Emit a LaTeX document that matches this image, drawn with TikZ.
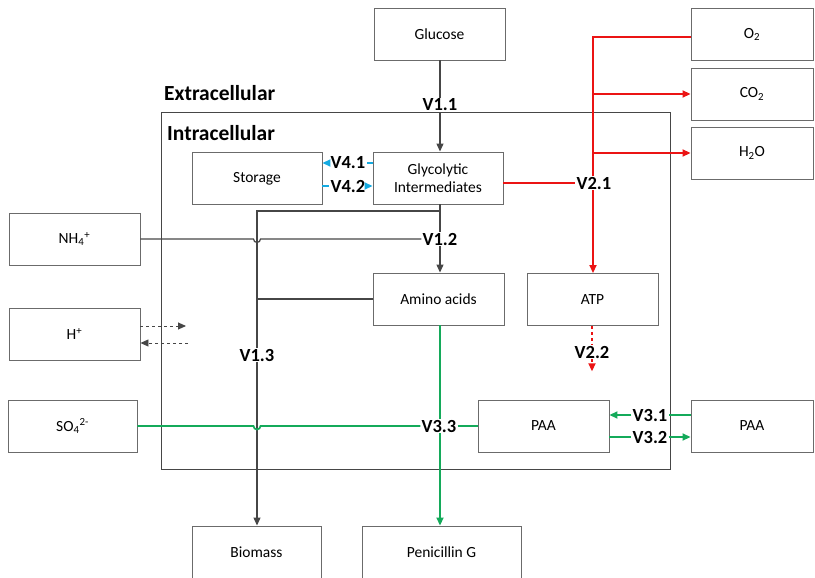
\documentclass[tikz,border=0pt]{standalone}
\usepackage{fontspec}
\setmainfont{Carlito}
\usetikzlibrary{arrows.meta,calc}
\definecolor{lc}{RGB}{70,70,70}
\definecolor{rd}{RGB}{235,20,20}
\definecolor{gn}{RGB}{20,170,90}
\definecolor{cy}{RGB}{20,170,225}
\tikzset{
  box/.style={draw=lc!80, line width=0.9pt, minimum width=#1, minimum height=52pt, inner sep=0pt, font=\fontsize{15.5}{17.5}\selectfont, align=center},
  box/.default=131pt,
  lab/.style={fill=white, inner sep=1pt, font=\bfseries\fontsize{18.5}{20}\selectfont},
  ttl/.style={anchor=base west, inner sep=0pt, font=\bfseries\fontsize{21.5}{23}\selectfont},
  ln/.style={draw=lc, line width=1.2pt},
  rl/.style={draw=rd, line width=1.7pt},
  gl/.style={draw=gn, line width=1.7pt},
  cl/.style={draw=cy, line width=1.7pt},
  arr/.style={-{Triangle[length=8pt,width=7pt]}},
}
\begin{document}
\begin{tikzpicture}[x=1pt,y=-1pt]
\useasboundingbox (0,0) rectangle (815,578);
% intracellular box
\draw[lc, line width=1pt] (161,113) rectangle (670,469);
\node[ttl] (ext) at (164,101) {Extracellular};
\node[ttl] (intr) at (167,140) {Intracellular};
% boxes
\node[box] (gluc) at (439.5,34) {Glucose};
\node[box=122pt] (o2) at (752,34.5) {O\textsubscript{2}};
\node[box=122pt] (co2) at (752,94) {CO\textsubscript{2}};
\node[box=122pt] (h2o) at (752,153) {H\textsubscript{2}O};
\node[box=130pt] (stor) at (257,178.5) {Storage};
\node[box=130pt] (glyc) at (438,178) {Glycolytic\\Intermediates};
\node[box] (nh4) at (74.5,239) {NH\textsubscript{4}\textsuperscript{+}};
\node[box] (hp) at (74.5,334) {H\textsuperscript{+}};
\node[box] (amino) at (438.5,299) {Amino acids};
\node[box] (atp) at (592.5,299.5) {ATP};
\node[box=129pt] (so4) at (72.5,426) {SO\textsubscript{4}\textsuperscript{2-}};
\node[box] (paa1) at (543.5,426) {PAA};
\node[box=122pt] (paa2) at (752,426) {PAA};
\node[box=129pt] (bio) at (256.5,552) {Biomass};
\node[box=159pt] (pen) at (441.5,552) {Penicillin G};
% labels
\node[lab] (v11) at (440,105) {V1.1};
\node[lab] (v12) at (440,239) {V1.2};
\node[lab] (v13) at (257,355) {V1.3};
\node[lab] (v21) at (594,183) {V2.1};
\node[lab] (v22) at (592,352) {V2.2};
\node[lab] (v33) at (439,426) {V3.3};
\node[lab] (v41) at (348,163) {V4.1};
\node[lab] (v42) at (348,186) {V4.2};
\node[lab] (v31) at (650,415) {V3.1};
\node[lab] (v32) at (650,437) {V3.2};
% black pathway
\coordinate (j1) at (440,211);
\coordinate (j2) at (257,300);
\draw[ln] (gluc.south -| v11) -- (v11.north);
\draw[ln,arr] (v11.south) -- (glyc.north -| v11);
\draw[ln] (glyc.south -| v12) -- (v12.north);
\draw[ln,arr] (v12.south) -- (amino.north -| v12);
\draw[ln] (j1) -- (j1 -| j2) -- (v13.north -| j2);
\draw[ln,arr] (v13.south -| j2) -- (bio.north -| j2);
\draw[ln] (amino.west) -- (amino.west -| j2);
\draw[ln] (nh4.east) -- ($(nh4.east -| j2)+(-3.5,0)$) arc[start angle=180, end angle=0, radius=3.5] -- (v12.west);
% H+
\coordinate (hpa) at (186,326);
\coordinate (hpb) at (188,343);
\draw[lc, line width=0.9pt, dashed, arr] (hp.east |- hpa) -- (hpa);
\draw[lc, line width=0.9pt, dashed, arr] (hpb) -- (hp.east |- hpb);
% red pathway
\coordinate (r0) at (593,37);
\draw[rl] (glyc.east |- v21) -- (v21.west);
\draw[rl] (o2.west |- r0) -- (r0) -- (v21.north -| r0);
\draw[rl, arr] (v21.south -| r0) -- (atp.north -| r0);
\draw[rl, arr] (r0 |- co2.west) -- (co2.west);
\draw[rl, arr] (r0 |- h2o.west) -- (h2o.west);
\draw[rl, dashed] (atp.south -| v22) -- (v22.north);
\draw[rl, dashed, arr] (v22.south) -- ++(0,12);
% cyan
\draw[cl] (glyc.west |- v41) -- (v41.east);
\draw[cl, arr] (v41.west) -- (stor.east |- v41);
\draw[cl] (stor.east |- v42) -- (v42.west);
\draw[cl, arr] (v42.east) -- (glyc.west |- v42);
% green
\draw[gl] (so4.east) -- ($(so4.east -| j2)+(-3.5,0)$) arc[start angle=180, end angle=0, radius=3.5] -- (v33.west);
\draw[gl] (v33.east) -- (paa1.west);
\draw[gl] (amino.south -| v12) -- (v33.north -| v12);
\draw[gl, arr] (v33.south -| v12) -- (pen.north -| v12);
\draw[gl] (paa2.west |- v31) -- (v31.east);
\draw[gl, arr] (v31.west) -- (paa1.east |- v31);
\draw[gl] (paa1.east |- v32) -- (v32.west);
\draw[gl, arr] (v32.east) -- (paa2.west |- v32);
\end{tikzpicture}
\end{document}
